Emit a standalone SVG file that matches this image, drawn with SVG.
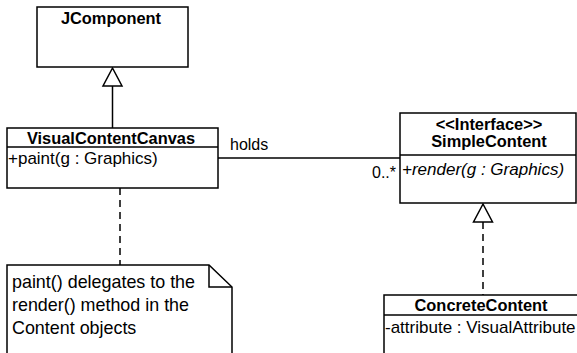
<svg xmlns="http://www.w3.org/2000/svg" width="577" height="353" viewBox="0 0 577 353">
<style>
.box{fill:#fff;stroke:#000;stroke-width:1.5}
.ln{fill:none;stroke:#000;stroke-width:1.5}
.dash{fill:none;stroke:#000;stroke-width:1.5;stroke-dasharray:7,5}
.tri{fill:#fff;stroke:#000;stroke-width:1.5}
text{font-family:"Liberation Sans",Arial,sans-serif;font-size:17px;fill:#000}
.b{font-weight:bold;text-anchor:middle;font-size:16.4px}
.i{font-style:italic}
.n{font-size:17.9px}
.s{font-size:16px}
</style>
<rect width="577" height="353" fill="#fff"/>
<g id="connectors">
<line class="ln" x1="112.5" y1="86" x2="112.5" y2="128"/>
<polygon class="tri" points="112.5,68 103,86 122,86"/>
<line class="dash" x1="120" y1="188" x2="120" y2="265"/>
<line class="ln" x1="218" y1="158" x2="400" y2="158"/>
<text class="s" x="230" y="150">holds</text>
<text class="s" x="396" y="178" text-anchor="end">0..*</text>
<line class="dash" x1="483" y1="222" x2="483" y2="295"/>
<polygon class="tri" points="483,204 473.5,222 492.5,222"/>
</g>
<g id="JComponent">
<rect class="box" x="37" y="7" width="151" height="60"/>
<text class="b" x="111" y="24">JComponent</text>
</g>
<g id="VisualContentCanvas">
<rect class="box" x="7" y="128" width="211" height="60"/>
<line class="ln" x1="7" y1="147" x2="218" y2="147"/>
<text class="b" x="111" y="144">VisualContentCanvas</text>
<text x="8" y="164">+paint(g : Graphics)</text>
</g>
<g id="SimpleContent">
<rect class="box" x="400" y="113" width="176" height="90"/>
<line class="ln" x1="400" y1="155" x2="576" y2="155"/>
<text class="b" x="489" y="130">&lt;&lt;Interface&gt;&gt;</text>
<text class="b" x="489" y="147">SimpleContent</text>
<text class="i" x="402" y="175">+render(g : Graphics)</text>
</g>
<g id="ConcreteContent">
<rect class="box" x="384" y="295" width="200" height="70"/>
<line class="ln" x1="384" y1="315" x2="584" y2="315"/>
<text class="b" x="481" y="311">ConcreteContent</text>
<text x="385" y="333">-attribute : VisualAttribute</text>
</g>
<g id="note">
<path class="box" d="M7,265 H209 L232,287 V360 H7 Z"/>
<path class="ln" d="M209,265 V287 H232"/>
<text class="n" x="12" y="288">paint() delegates to the</text>
<text class="n" x="12" y="311">render() method in the</text>
<text class="n" x="12" y="334">Content objects</text>
</g>
</svg>
